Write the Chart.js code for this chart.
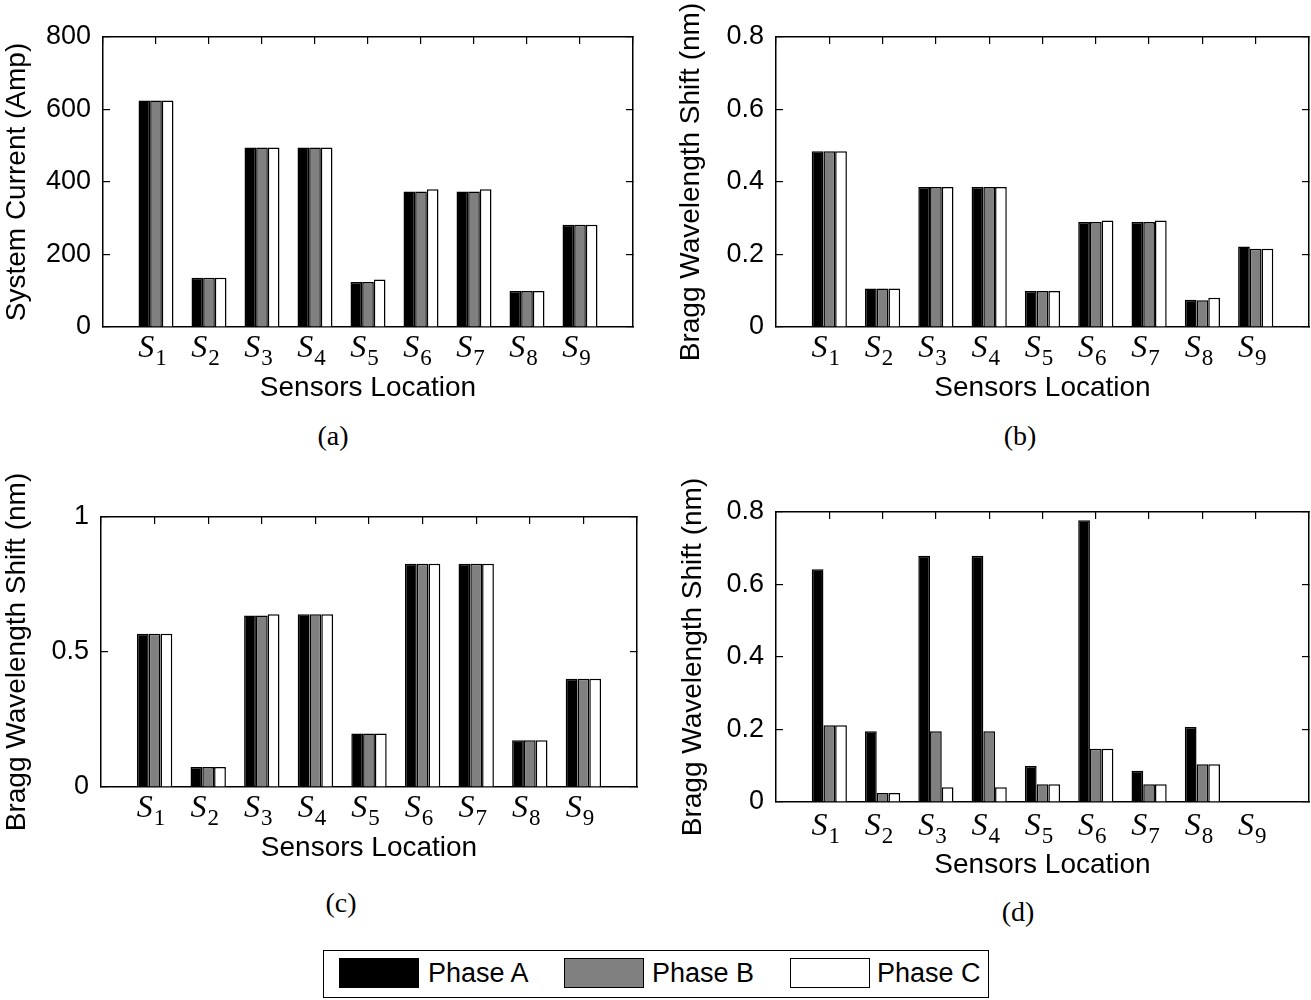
<!DOCTYPE html>
<html><head>
<meta charset="UTF-8">
<title>Sensors Location - Phase Comparison</title>
<script src="https://cdn.jsdelivr.net/npm/chart.js@4"></script>
<style>
body { margin: 0; background: #fff; width: 1311px; height: 1000px; position: relative; overflow: hidden; font-family: 'Liberation Sans', Arial, sans-serif; color: #000; }
.panel { position: absolute; }
.cap { position: absolute; font-family: 'Liberation Serif', 'Times New Roman', serif; font-size: 28px; transform: translate(-50%, -50%); }
.legend { position: absolute; left: 323px; top: 950px; width: 664px; height: 46px; border: 1.5px solid #000; }
.legend .sw { position: absolute; top: 7px; width: 78px; height: 28px; border: 1.5px solid #000; }
.legend .tx { position: absolute; top: 4px; font-size: 27px; line-height: 36px; }
</style></head><body>

<div class="panel" style="left:0;top:0"><canvas id="chartA" width="655" height="410"></canvas></div>
<div class="panel" style="left:660px;top:0"><canvas id="chartB" width="651" height="410"></canvas></div>
<div class="panel" style="left:0;top:460px"><canvas id="chartC" width="655" height="410"></canvas></div>
<div class="panel" style="left:660px;top:460px"><canvas id="chartD" width="651" height="427"></canvas></div>

<div class="cap" style="left:333px;top:436px">(a)</div>
<div class="cap" style="left:1020px;top:436px">(b)</div>
<div class="cap" style="left:341px;top:903px">(c)</div>
<div class="cap" style="left:1018px;top:912px">(d)</div>

<div class="legend">
  <div class="sw" style="left:15px;background:#000"></div><div class="tx" style="left:104px">Phase A</div>
  <div class="sw" style="left:240px;background:#808080"></div><div class="tx" style="left:328px">Phase B</div>
  <div class="sw" style="left:466px;background:#fff"></div><div class="tx" style="left:553px">Phase C</div>
</div>

<script>
const sensors = ['S1', 'S2', 'S3', 'S4', 'S5', 'S6', 'S7', 'S8', 'S9'];
const phaseNames = ['Phase A', 'Phase B', 'Phase C'];
const phaseColors = ['#000000', '#808080', '#ffffff'];

// (a) system current, Amp
const currentA = [625, 136, 495, 495, 124, 374, 374, 99, 282];
const currentB = [625, 136, 495, 495, 124, 374, 374, 99, 282];
const currentC = [625, 136, 495, 495, 131, 380, 380, 99, 282];

// (b) Bragg wavelength shift, nm
const shiftB_A = [0.485, 0.106, 0.386, 0.386, 0.099, 0.290, 0.290, 0.075, 0.222];
const shiftB_B = [0.485, 0.106, 0.386, 0.386, 0.099, 0.290, 0.290, 0.074, 0.216];
const shiftB_C = [0.485, 0.106, 0.386, 0.386, 0.099, 0.294, 0.294, 0.081, 0.216];

// (c)
const shiftC_A = [0.568, 0.074, 0.635, 0.640, 0.198, 0.827, 0.827, 0.173, 0.401];
const shiftC_B = [0.568, 0.074, 0.635, 0.640, 0.198, 0.827, 0.827, 0.173, 0.401];
const shiftC_C = [0.568, 0.074, 0.640, 0.640, 0.198, 0.827, 0.827, 0.173, 0.401];

// (d)
const shiftD_A = [0.642, 0.195, 0.679, 0.679, 0.099, 0.777, 0.086, 0.207, 0];
const shiftD_B = [0.212, 0.025, 0.195, 0.195, 0.049, 0.147, 0.049, 0.104, 0];
const shiftD_C = [0.212, 0.025, 0.041, 0.041, 0.049, 0.147, 0.049, 0.104, 0];

const SANS = "'Liberation Sans', Arial, sans-serif";
const SERIF = "'Liberation Serif', 'Times New Roman', serif";

// italic S with upright subscript under each category
const sensorLabels = {
  id: 'sensorLabels',
  afterDraw(chart, args, opts) {
    const { ctx } = chart;
    const x = chart.scales.x;
    ctx.save();
    ctx.fillStyle = '#000';
    ctx.textBaseline = 'alphabetic';
    sensors.forEach((name, i) => {
      const cx = x.getPixelForValue(i + 1);
      const base = chart.chartArea.bottom + opts.baseline;
      const main = name[0], sub = name.slice(1);
      ctx.font = 'italic 32px ' + SERIF;
      const w1 = ctx.measureText(main).width;
      ctx.font = '23px ' + SERIF;
      const w2 = ctx.measureText(sub).width;
      const x0 = cx - (w1 + w2) / 2 - 4;
      ctx.font = 'italic 32px ' + SERIF;
      ctx.fillText(main, x0, base);
      ctx.font = '23px ' + SERIF;
      ctx.fillText(sub, x0 + w1 + 1, base + 8);
    });
    ctx.restore();
  }
};

function buildChart(id, series, yCfg, box) {
  const pad = arr => [null, ...arr, null];
  const border = { display: true, color: '#000', width: 1.5 };
  const inTicks = { drawOnChartArea: false, drawTicks: true, tickLength: -7, color: '#000', lineWidth: 1.2 };
  return new Chart(document.getElementById(id), {
    type: 'bar',
    plugins: [sensorLabels],
    data: {
      labels: ['', ...sensors, ''],
      datasets: series.map((vals, i) => ({
        label: phaseNames[i],
        data: pad(vals),
        backgroundColor: phaseColors[i],
        borderColor: '#000',
        borderWidth: 1.5,
        barPercentage: 1,
        categoryPercentage: 0.66
      }))
    },
    options: {
      responsive: false,
      animation: false,
      events: [],
      layout: { padding: box.pad },
      plugins: {
        legend: { display: false },
        tooltip: { enabled: false },
        sensorLabels: { baseline: box.labelBase }
      },
      scales: {
        x: {
          type: 'category', offset: false,
          grid: { offset: false, drawOnChartArea: false, drawTicks: false },
          border: border,
          ticks: { display: false },
          title: { display: true, text: 'Sensors Location', color: '#000', font: { family: SANS, size: 28 }, padding: 0 },
          afterFit: s => { s.height = box.xH; }
        },
        x2: {
          type: 'category', position: 'top', offset: false,
          grid: Object.assign({ offset: false }, inTicks),
          border: border,
          ticks: { display: false },
          afterFit: s => { s.height = 0; }
        },
        y: {
          type: 'linear', min: yCfg.min, max: yCfg.max,
          grid: inTicks,
          border: border,
          ticks: { stepSize: yCfg.step, color: '#000', padding: 19, font: { family: SANS, size: 27 },
                   callback: v => String(+v.toFixed(2)) },
          title: { display: true, text: yCfg.title, color: '#000', font: { family: SANS, size: 28 },
                   padding: { top: box.titlePad, bottom: 0 } },
          afterFit: s => { s.width = box.yW; }
        },
        y2: {
          type: 'linear', position: 'right', min: yCfg.min, max: yCfg.max,
          grid: inTicks,
          border: border,
          ticks: { display: false, stepSize: yCfg.step },
          afterFit: s => { s.width = 0; }
        }
      }
    }
  });
}

const braggTitle = 'Bragg Wavelength Shift (nm)';

buildChart('chartA', [currentA, currentB, currentC],
  { min: 0, max: 800, step: 200, title: 'System Current (Amp)' },
  { pad: { left: 0, top: 37, right: 22, bottom: 5 }, yW: 103, xH: 78, titlePad: 0, labelBase: 30 });

buildChart('chartB', [shiftB_A, shiftB_B, shiftB_C],
  { min: 0, max: 0.8, step: 0.2, title: braggTitle },
  { pad: { left: 0, top: 37, right: 2, bottom: 5 }, yW: 116, xH: 78, titlePad: 14, labelBase: 30 });

buildChart('chartC', [shiftC_A, shiftC_B, shiftC_C],
  { min: 0, max: 1, step: 0.5, title: braggTitle },
  { pad: { left: 0, top: 57, right: 18, bottom: 5 }, yW: 101, xH: 78, titlePad: 0, labelBase: 30 });

buildChart('chartD', [shiftD_A, shiftD_B, shiftD_C],
  { min: 0, max: 0.8, step: 0.2, title: braggTitle },
  { pad: { left: 0, top: 52, right: 2, bottom: 5 }, yW: 116, xH: 80, titlePad: 16, labelBase: 33 });
</script>
</body></html>
